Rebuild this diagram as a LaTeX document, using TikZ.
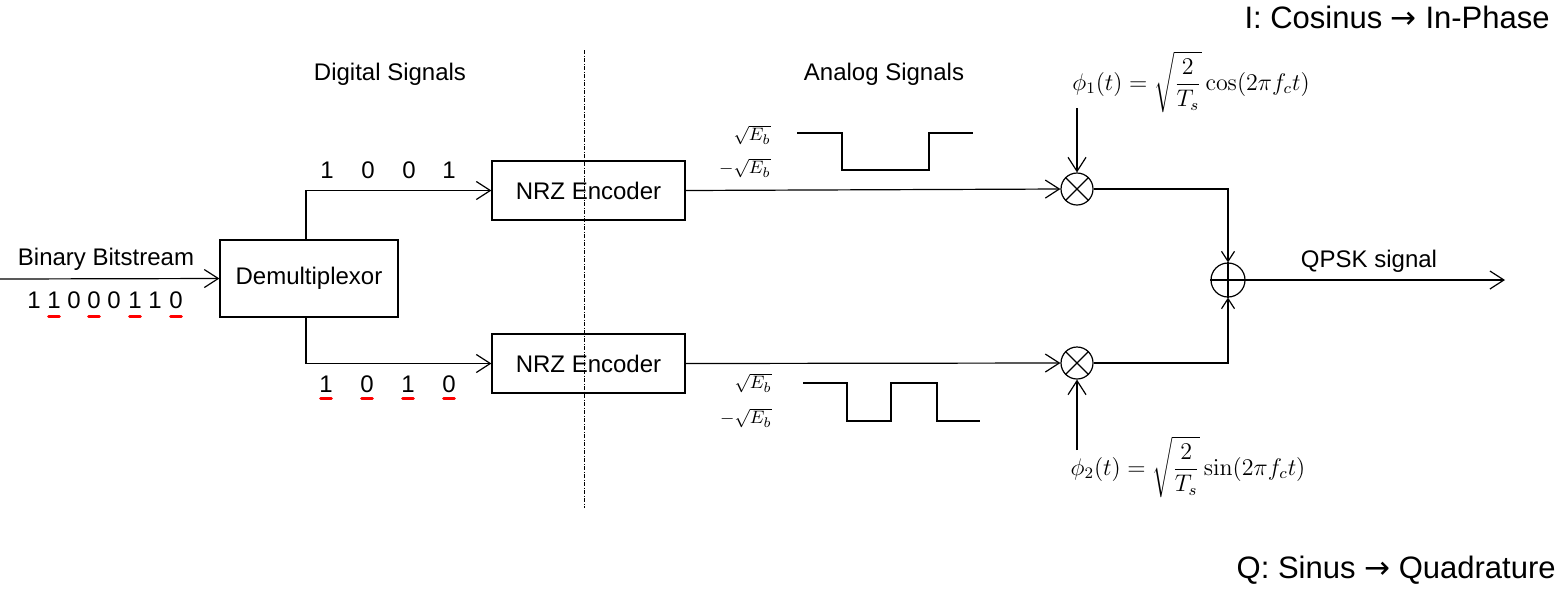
\documentclass[tikz,border=0pt]{standalone}
\usepackage[no-math]{fontspec}
\setmainfont{Liberation Sans}
\newfontfamily\arrowfont{DejaVu Sans}
\usetikzlibrary{arrows.meta}
\begin{document}
\begin{tikzpicture}[x=0.5pt,y=-0.5pt,
  wire/.style={line width=0.6pt},
  arr/.style={wire,-{Straight Barb[length=7pt,width=9pt,line width=0.6pt]}},
  sarr/.style={wire,-{Straight Barb[length=5pt,width=6.5pt,line width=0.6pt]}},
  block/.style={draw,line width=0.6pt,inner sep=0pt,font=\fontsize{12}{14}\selectfont},
  lbl/.style={inner sep=0pt,anchor=base,font=\fontsize{12}{14}\selectfont},
  bigl/.style={inner sep=0pt,anchor=base east,font=\fontsize{15.5}{18}\selectfont},
  redbar/.style={red,line width=1.5pt,line cap=round},
  mathlbl/.style={inner sep=0pt,font=\fontsize{12}{14}\selectfont},
  level/.style={inner sep=0pt,anchor=east,font=\fontsize{9.5}{11}\selectfont},
  wave/.style={line width=0.6pt},
  mix/.style={circle,draw,line width=0.6pt,minimum size=16pt,inner sep=0pt},
  sep/.style={line width=0.4pt,dash pattern=on 2pt off 0.8pt on 0.4pt off 0.8pt}
]
\useasboundingbox (0,0) rectangle (1566,596);

% blocks
\node[block,minimum width=89pt,minimum height=38.5pt] (dmx) at (309,278.5) {Demultiplexor};
\node[block,minimum width=96.5pt,minimum height=29.5pt] (nrz1) at (588.5,190.5) {NRZ Encoder};
\node[block,minimum width=96.5pt,minimum height=29.5pt] (nrz2) at (588.5,363.5) {NRZ Encoder};

% mixers and adder
\node[mix] (m1) at (1077,189) {};
\node[mix] (m2) at (1077,363) {};
\node[mix,minimum size=17pt] (add) at (1228,280) {};
\draw[wire] (m1.north east) -- (m1.south west) (m1.north west) -- (m1.south east);
\draw[wire] (m2.north east) -- (m2.south west) (m2.north west) -- (m2.south east);
\draw[wire] (add.north) -- (add.south) (add.west) -- (add.east);

% coordinates
\coordinate (in) at (0,279);
\coordinate (out) at (1505,280);
\coordinate (p1) at (1077,108);
\coordinate (p2) at (1077,450);

% connectors
\draw[arr] (in) -- (dmx.west);
\draw[arr] (dmx.north -| 306,0) |- (nrz1.west);
\draw[arr] (dmx.south -| 306,0) |- (nrz2.west);
\draw[arr] (nrz1.east) -- (m1.west);
\draw[arr] (nrz2.east) -- (m2.west);
\draw[sarr] (m1.east) -| (add.north);
\draw[sarr] (m2.east) -| (add.south);
\draw[arr] (add.east) -- (out);
\draw[arr] (p1) -- (m1.north);
\draw[arr] (p2) -- (m2.south);

% separator
\draw[sep] (584,50) -- (584,508);

% headings
\node[lbl] (dig) at (390,80) {Digital Signals};
\node[lbl] (ana) at (884,80) {Analog Signals};
\node[lbl] (bbs) at (106,265) {Binary Bitstream};
\node[lbl] (qpsk) at (1369,267) {QPSK signal};
\node[bigl] (ip) at (1550,28) {I: Cosinus {\arrowfont →} In-Phase};
\node[bigl] (qd) at (1556,578) {Q: Sinus {\arrowfont →} Quadrature};

% bitstream
\foreach \x/\d [count=\i] in {34/1,54/1,74/0,94/0,114/0,135/1,155/1,176/0}
  \node[lbl] (b\i) at (\x,308) {\d};
\foreach \i in {2,4,6,8}
  \draw[redbar] ([xshift=-2.7pt,yshift=-4pt]b\i.base) -- ([xshift=2.7pt,yshift=-4pt]b\i.base);

% top bits
\foreach \x/\d [count=\i] in {327/1,368/0,409/0,449/1}
  \node[lbl] (t\i) at (\x,178) {\d};
% bottom bits
\foreach \x/\d [count=\i] in {326/1,367/0,408/1,449/0}
  \node[lbl] (u\i) at (\x,392) {\d};
\foreach \i in {1,2,3,4}
  \draw[redbar] ([xshift=-2.7pt,yshift=-3pt]u\i.base) -- ([xshift=2.7pt,yshift=-3pt]u\i.base);

% waveforms
\draw[wave] (797,133) -- (842,133) -- (842,170) -- (929,170) -- (929,133) -- (973,133);
\draw[wave] (803,383) -- (847,383) -- (847,421) -- (891,421) -- (891,383) -- (937,383) -- (937,421) -- (980,421);
\node[level] (l1a) at (771,135) {$\sqrt{E_b}$};
\node[level] (l1b) at (771,168) {$-\sqrt{E_b}$};
\node[level] (l2a) at (772,383) {$\sqrt{E_b}$};
\node[level] (l2b) at (772,418) {$-\sqrt{E_b}$};

% carrier labels
\node[mathlbl] (phi1) at (1191,82) {$\displaystyle \phi_1(t)=\sqrt{\frac{2}{T_s}}\cos(2\pi f_c t)$};
\node[mathlbl] (phi2) at (1188,467) {$\displaystyle \phi_2(t)=\sqrt{\frac{2}{T_s}}\sin(2\pi f_c t)$};
\end{tikzpicture}
\end{document}
